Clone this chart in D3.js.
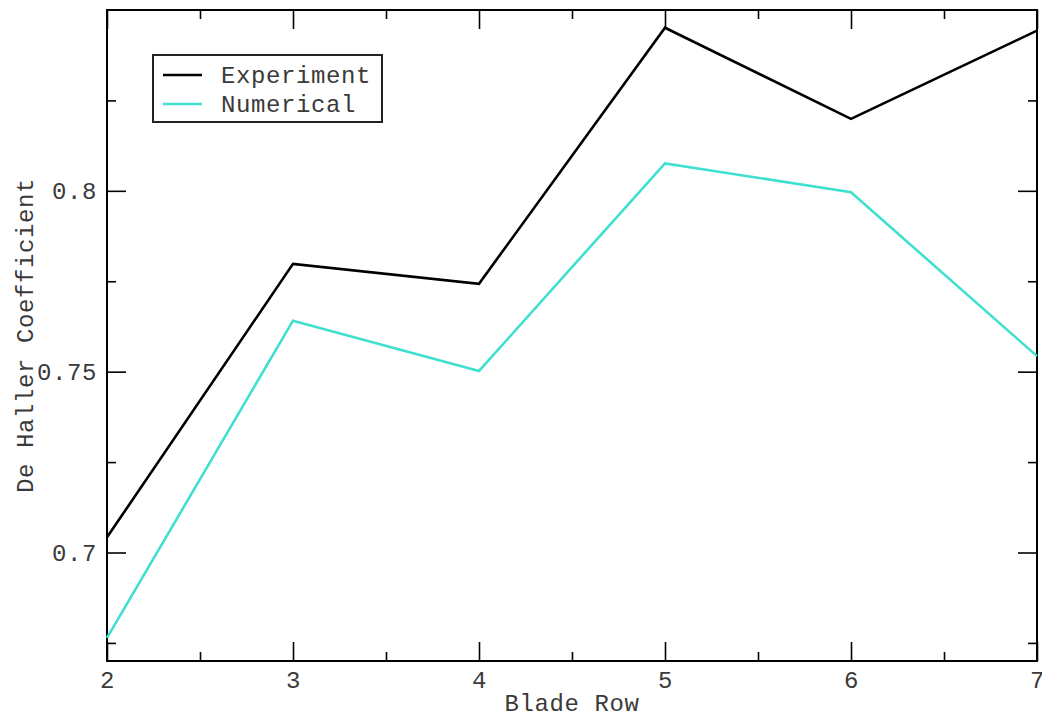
<!DOCTYPE html>
<html>
<head>
<meta charset="utf-8">
<script src="https://cdn.jsdelivr.net/npm/d3@7"></script>
<style>
  html, body { margin: 0; padding: 0; background: #fff; }
  text { font-family: "Liberation Mono", "DejaVu Sans Mono", monospace; fill: #3a3a3a; }
</style>
</head>
<body>
<svg id="chart" width="1042" height="717"></svg>
<script>
const bladeRows = [2, 3, 4, 5, 6, 7];
const experiment = [0.7042, 0.7798, 0.7743, 0.8451, 0.8199, 0.8443];
const numerical  = [0.6764, 0.7641, 0.7502, 0.8076, 0.7996, 0.7543];
const seriesNames = ["Experiment", "Numerical"];
const seriesColors = ["#000000", "#40e0d0"];
const xMajorTicks = [2, 3, 4, 5, 6, 7];
const xMinorTicks = [2.5, 3.5, 4.5, 5.5, 6.5];
const yMajorTicks = [0.7, 0.75, 0.8];
const yMinorTicks = [0.675, 0.725, 0.775, 0.825];
const xTitle = "Blade Row";
const yTitle = "De Haller Coefficient";

const svg = d3.select("#chart");
const L = 107, R = 1037, T = 10, B = 661;
const x = d3.scaleLinear().domain([2, 7]).range([L, R]);
const y = d3.scaleLinear().domain([0.67, 0.85]).range([B, T]);

const fontSize = 24, ls = 0.6;
const majLen = 19, minLen = 9;

const gB = svg.append("g").attr("transform", `translate(0,${B})`)
  .call(d3.axisBottom(x).tickValues(xMajorTicks).tickSize(-majLen).tickPadding(10)
    .tickFormat(d3.format("d")));
gB.append("g").call(d3.axisBottom(x).tickValues(xMinorTicks).tickSize(-minLen).tickFormat(""));
const gT = svg.append("g").attr("transform", `translate(0,${T})`)
  .call(d3.axisTop(x).tickValues(xMajorTicks).tickSize(-majLen).tickFormat(""));
gT.append("g").call(d3.axisTop(x).tickValues(xMinorTicks).tickSize(-minLen).tickFormat(""));
const gL = svg.append("g").attr("transform", `translate(${L},0)`)
  .call(d3.axisLeft(y).tickValues(yMajorTicks).tickSize(-majLen).tickPadding(10)
    .tickFormat(d => String(+d.toFixed(3))));
gL.append("g").call(d3.axisLeft(y).tickValues(yMinorTicks).tickSize(-minLen).tickFormat(""));
const gR = svg.append("g").attr("transform", `translate(${R},0)`)
  .call(d3.axisRight(y).tickValues(yMajorTicks).tickSize(-majLen).tickFormat(""));
gR.append("g").call(d3.axisRight(y).tickValues(yMinorTicks).tickSize(-minLen).tickFormat(""));

svg.selectAll(".domain").remove();
svg.selectAll(".tick line").attr("stroke", "#000").attr("stroke-width", 1.6);
svg.selectAll(".tick text")
  .style("font-family", '"Liberation Mono", monospace')
  .style("font-size", fontSize + "px")
  .style("letter-spacing", ls + "px")
  .attr("fill", "#3a3a3a");

svg.append("rect").attr("x", L).attr("y", T).attr("width", R - L).attr("height", B - T)
  .attr("fill", "none").attr("stroke", "#000").attr("stroke-width", 2);

const line = d3.line().x((d, i) => x(bladeRows[i])).y(d => y(d));
[experiment, numerical].forEach((s, k) => {
  svg.append("path").datum(s).attr("d", line)
    .attr("fill", "none").attr("stroke", seriesColors[k])
    .attr("stroke-width", 2.6).attr("stroke-linejoin", "miter");
});

svg.append("text").attr("x", (L + R) / 2).attr("y", 711)
  .attr("text-anchor", "middle").style("font-size", fontSize + "px")
  .style("letter-spacing", ls + "px").text(xTitle);
svg.append("text").attr("transform", `translate(33,${(T + B) / 2}) rotate(-90)`)
  .attr("text-anchor", "middle").style("font-size", fontSize + "px")
  .style("letter-spacing", ls + "px").text(yTitle);

const lg = svg.append("g");
lg.append("rect").attr("x", 153).attr("y", 55).attr("width", 229).attr("height", 67)
  .attr("fill", "#fff").attr("stroke", "#222").attr("stroke-width", 2);
seriesNames.forEach((n, k) => {
  const yy = 75 + k * 29;
  lg.append("line").attr("x1", 163).attr("x2", 202).attr("y1", yy).attr("y2", yy)
    .attr("stroke", seriesColors[k]).attr("stroke-width", 2.6);
  lg.append("text").attr("x", 221).attr("y", yy + 8)
    .style("font-size", fontSize + "px").style("letter-spacing", ls + "px").text(n);
});
</script>
</body>
</html>
